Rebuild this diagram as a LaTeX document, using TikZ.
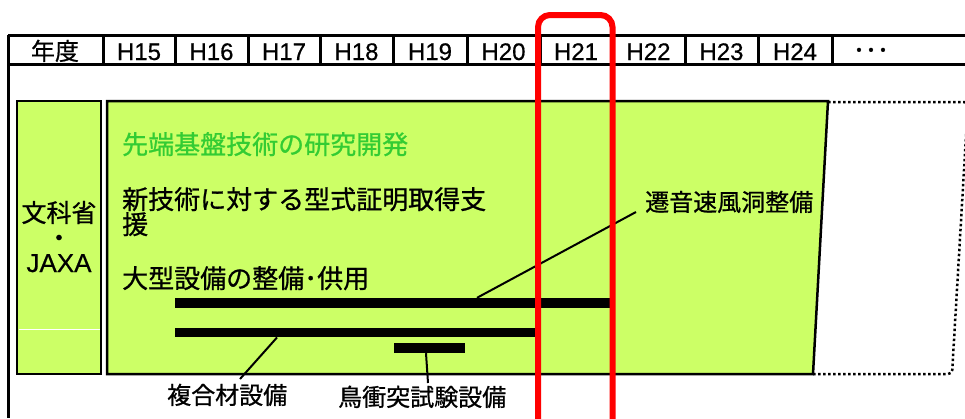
\documentclass[tikz,border=0pt]{standalone}
\usepackage{fontspec}
\setmainfont{Noto Sans CJK JP}[FakeBold=0.8]
\newfontfamily\lat{Liberation Sans}[FakeBold=0.5]
\usetikzlibrary{calc}
\definecolor{boxgreen}{RGB}{204,255,102}
\definecolor{titlegreen}{RGB}{51,204,51}
\definecolor{framered}{RGB}{255,0,0}
\begin{document}
\begin{tikzpicture}[x=1pt,y=-1pt,
  grid/.style={line width=3pt},
  boxline/.style={line width=2.5pt},
  hdrjp/.style={inner sep=0pt, anchor=base, font=\fontsize{24}{24}\selectfont},
  hdrlat/.style={inner sep=0pt, anchor=base, font=\lat\fontsize{24}{24}\selectfont},
  maintext/.style={inner sep=0pt, anchor=base west, align=left, font=\fontsize{26}{25}\selectfont},
  labeltext/.style={inner sep=0pt, anchor=base west, font=\fontsize{24}{24}\selectfont},
  barbox/.style={fill=black, inner sep=0pt, minimum height=10pt, anchor=west},
  leader/.style={line width=2pt},
  dotline/.style={line width=2.5pt, dash pattern=on 2.5pt off 2.5pt},
  redframe/.style={draw=framered, line width=6pt, rounded corners=12pt}
]
\useasboundingbox (0,0) rectangle (965,418);
\fill[white] (0,0) rectangle (965,418);

% header table
\draw[grid] (8,35) -- (965,35);
\draw[grid] (8,64) -- (965,64);
\draw[grid] (8,35) -- (8,418);
\foreach \x in {103,175,248,320,393,467,540,612,685,758,832}
  \draw[grid] (\x,35) -- (\x,64);
\node[hdrjp] (nendo) at (55,60) {年度};
\node[hdrlat] (h15) at (139,60) {H15};
\node[hdrlat] (h16) at (211.5,60) {H16};
\node[hdrlat] (h17) at (284,60) {H17};
\node[hdrlat] (h18) at (356.5,60) {H18};
\node[hdrlat] (h19) at (430,60) {H19};
\node[hdrlat] (h20) at (503.5,60) {H20};
\node[hdrlat] (h21) at (576,60) {H21};
\node[hdrlat] (h22) at (648.5,60) {H22};
\node[hdrlat] (h23) at (721.5,60) {H23};
\node[hdrlat] (h24) at (795,60) {H24};
\node[hdrjp] (etc) at (871,59) {･･･};

% left box
\filldraw[fill=boxgreen, boxline] (17,101) rectangle (101,374);
\draw[white, line width=0.8pt] (18.5,329) -- (99.5,329);
\node[inner sep=0pt, anchor=base, font=\fontsize{25}{25}\selectfont] (mext) at (59,222) {文科省};
\node[inner sep=0pt, anchor=base, font=\fontsize{25}{25}\selectfont] (mdot) at (59,247) {・};
\node[inner sep=0pt, anchor=base, font=\lat\fontsize{26}{26}\selectfont] (jaxa) at (59,272) {JAXA};

% main box and dotted continuation
\fill[boxgreen] (107,101) -- (828,101) -- (813,374) -- (107,374) -- cycle;
\draw[dotline, rounded corners=4pt] (828,102) -- (968,102) -- (952,374) -- (813,374);
\draw[boxline] (107,101) -- (828,101) -- (813,374) -- (107,374) -- cycle;

\node[maintext, text=titlegreen] (title) at (122,154) {先端基盤技術の研究開発};
\node[maintext] (cert) at (122,234) {新技術に対する型式証明取得支\\援};
\node[maintext] (facil) at (122,288) {大型設備の整備･供用};

% bars
\node[barbox, minimum width=438pt] (bar1) at (175,303) {};
\node[barbox, minimum width=360pt, minimum height=9.5pt] (bar2) at (175,332.5) {};
\node[barbox, minimum width=71pt] (bar3) at (394,348) {};

% labels
\node[labeltext] (wt) at (645,211) {遷音速風洞整備};
\node[labeltext] (comp) at (167,404) {複合材設備};
\node[labeltext] (bird) at (338,406) {鳥衝突試験設備};

\coordinate (wtend) at (636,212);
\coordinate (compend) at (240,379);
\coordinate (birdend) at (428,383);
\draw[leader] (bar1.north west -| 477,0) -- (wtend);
\draw[leader] (bar2.south west -| 277,0) -- (compend);
\draw[leader] (bar3.south west -| 426,0) -- (birdend);

% red highlight frame
\draw[redframe] (538,430) -- (538,15) -- (612.5,15) -- (612.5,430);
\end{tikzpicture}
\end{document}
